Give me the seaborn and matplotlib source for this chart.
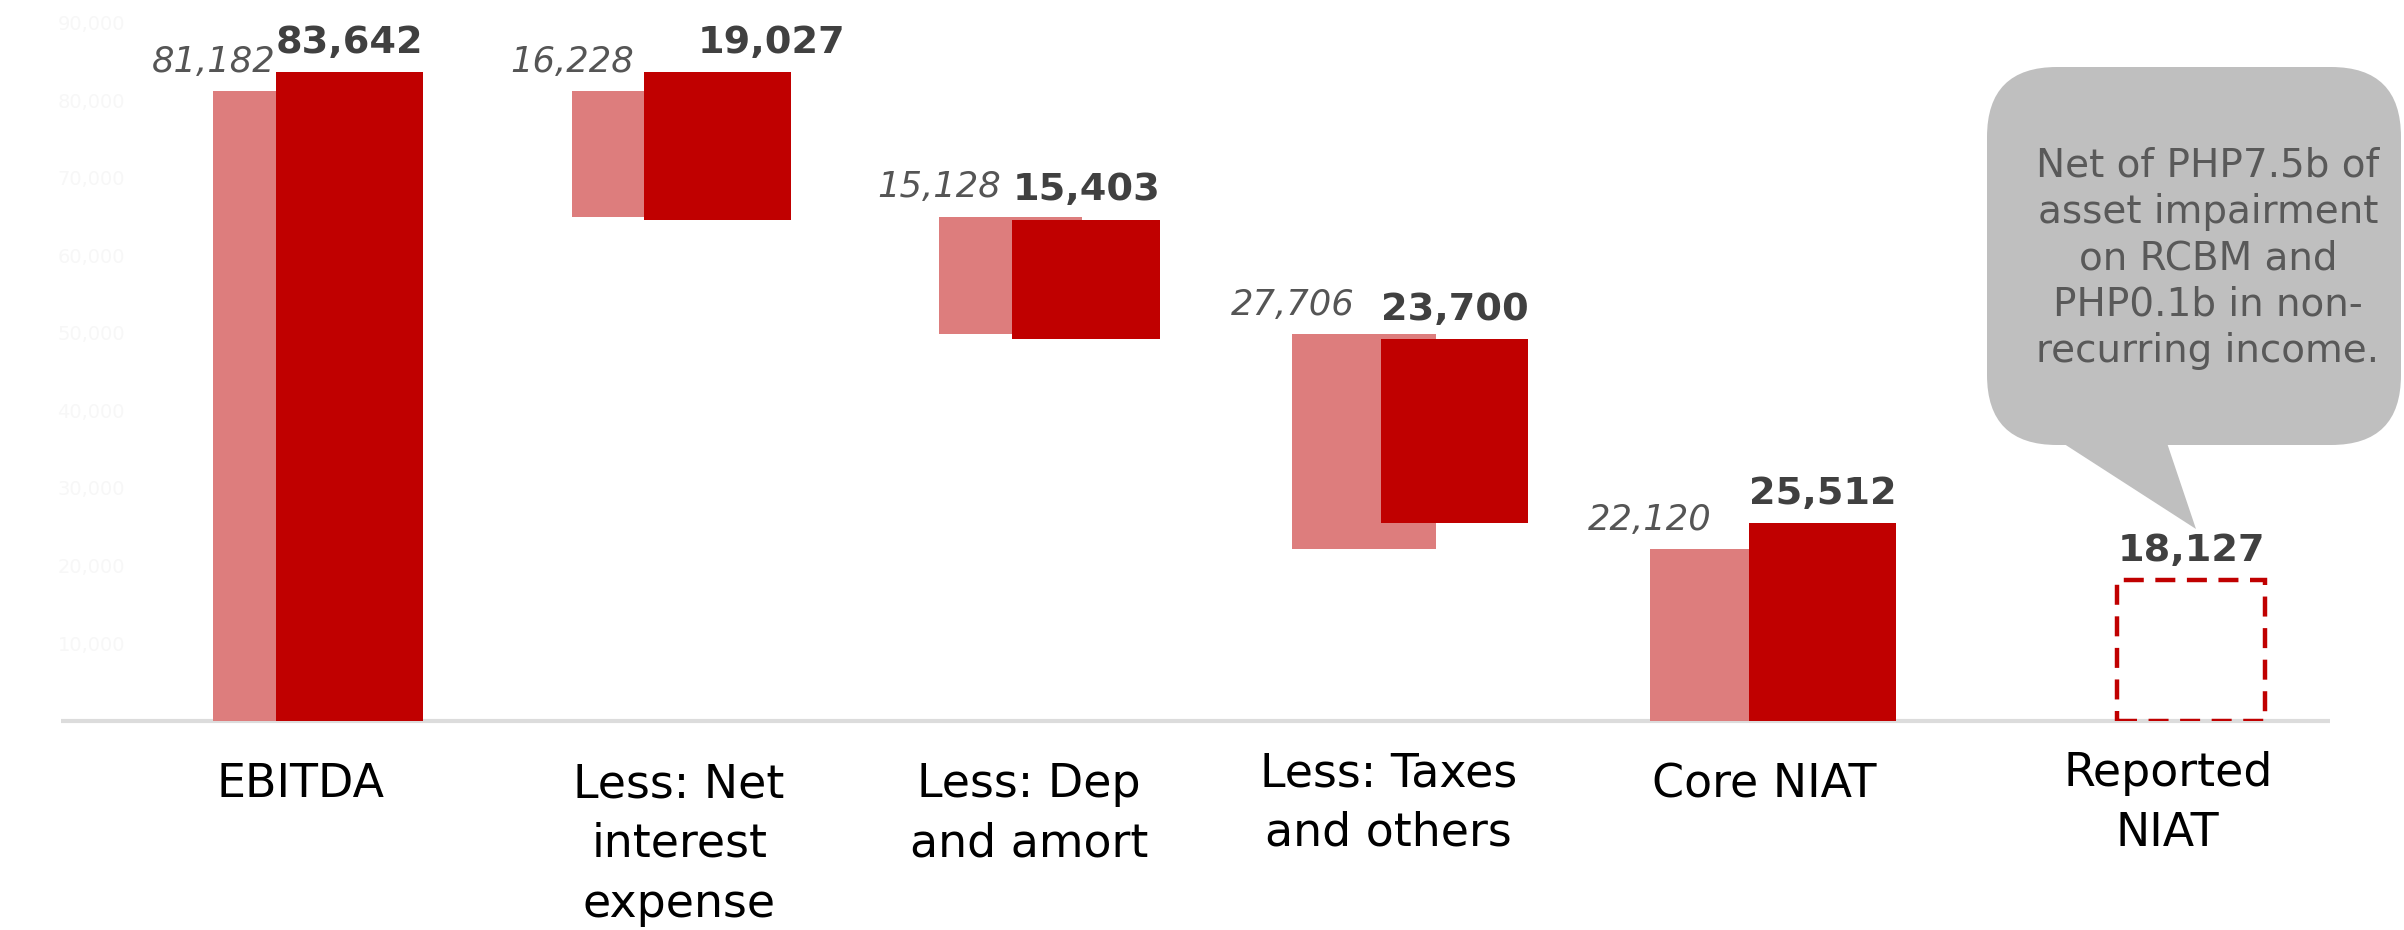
import matplotlib
matplotlib.use("Agg")
import matplotlib.pyplot as plt
import seaborn as sns
import numpy as np
import pandas as pd
from matplotlib.patches import FancyBboxPatch, Polygon

# ---------------- data ----------------
categories = ["EBITDA", "Less: Net\ninterest\nexpense", "Less: Dep\nand amort",
              "Less: Taxes\nand others", "Core NIAT", "Reported\nNIAT"]
prior_values = [81182, 16228, 15128, 27706, 22120, np.nan]
current_values = [83642, 19027, 15403, 23700, 25512, 18127]
bar_kind = ["total", "decrease", "decrease", "decrease", "total", "total"]
y_ticks = [10000, 20000, 30000, 40000, 50000, 60000, 70000, 80000, 90000]
callout_text = "Net of PHP7.5b of\nasset impairment\non RCBM and\nPHP0.1b in non-\nrecurring income."

# ---------------- layout / style ----------------
W, H = 2404, 930
DARK = "#C00000"
LIGHT = "#DD7D7D"
light_offset = [-0.175, -0.200, -0.205, -0.245, -0.275, 0.0]
label_offset = [-0.134, -0.105, -0.155, -0.178, -0.160, -0.063]
label_drop = [30, 30, 30, 22, 30, 22]          # points below baseline
dark_label_dx = [0, 0.145, 0, 0, 0, 0]
dark_w, light_w = 0.40, 0.39


def waterfall_bottoms(values, kinds):
    bottoms, running = [], 0.0
    for v, k in zip(values, kinds):
        if np.isnan(v):
            bottoms.append(np.nan)
            continue
        if k == "total":
            bottoms.append(0.0)
            running = v
        else:
            running -= v
            bottoms.append(running)
    return bottoms


df = pd.DataFrame({
    "category": categories,
    "prior": prior_values,
    "current": current_values,
    "kind": bar_kind,
})
df["prior_bottom"] = waterfall_bottoms(df["prior"].tolist(), bar_kind)
df["current_bottom"] = waterfall_bottoms(df["current"].tolist(), bar_kind)
df["x"] = np.arange(len(df))

sns.set_theme(style="white")
plt.rcParams["font.family"] = ["DejaVu Sans"]

fig = plt.figure(figsize=(W / 100, H / 100), dpi=100)
base_px = 720.6
ax = fig.add_axes([0, 1 - base_px / H, 1, base_px / H])
ax.set_xlim(-349.5 / 368.3, (W - 349.5) / 368.3)
ax.set_ylim(0, 92920)
sns.despine(ax=ax, left=True, bottom=True)

# baseline
ax.plot([-0.783, 5.377], [0, 0], color="#dcdcdc", lw=3, clip_on=False, zorder=0.5,
        solid_capstyle="butt")

n = len(df)
for i, row in df.iterrows():
    x = row["x"]
    # prior (light) bar
    if not np.isnan(row["prior"]):
        lx = x + light_offset[i]
        ax.bar(lx, row["prior"], bottom=row["prior_bottom"], width=light_w,
               color=LIGHT, zorder=1, linewidth=0)
        ax.annotate(f"{int(row['prior']):,}",
                    xy=(lx - light_w / 2, row["prior_bottom"] + row["prior"]),
                    xytext=(0, 9), textcoords="offset points",
                    ha="center", va="bottom", fontsize=25.5, style="italic",
                    color="#555555", zorder=5)
    # current (dark) bar
    top = row["current_bottom"] + row["current"]
    if i == n - 1:
        ax.bar(x, row["current"], bottom=row["current_bottom"], width=dark_w,
               fill=False, edgecolor=DARK, linewidth=3.2,
               linestyle=(0, (4.5, 2.6)), zorder=2)
    else:
        ax.bar(x, row["current"], bottom=row["current_bottom"], width=dark_w,
               color=DARK, zorder=2, linewidth=0)
    ax.annotate(f"{int(row['current']):,}",
                xy=(x + dark_label_dx[i], top),
                xytext=(0, 8), textcoords="offset points",
                ha="center", va="bottom", fontsize=27.5, fontweight="bold",
                color="#404040", zorder=5)
    # category label
    ax.annotate(row["category"], xy=(x + label_offset[i], 0),
                xycoords=("data", "axes fraction"),
                xytext=(0, -label_drop[i]), textcoords="offset points",
                ha="center", va="top", fontsize=33, color="black",
                linespacing=1.42, multialignment="center", annotation_clip=False)

ax.set_xticks([])
ax.set_yticks(y_ticks)
ax.set_yticklabels([f"{v:,}" for v in y_ticks], color="#f7f7f7", fontsize=14)
ax.tick_params(axis="y", length=0, pad=-90)
for t in ax.get_yticklabels():
    t.set_horizontalalignment("right")
ax.grid(False)

# ---------------- callout (overlay in pixel coords) ----------------
ov = fig.add_axes([0, 0, 1, 1], zorder=10)
ov.set_xlim(0, W)
ov.set_ylim(H, 0)
ov.axis("off")
ov.patch.set_alpha(0)
box = FancyBboxPatch((1987, 67), 2401 - 1987, 445 - 67,
                     boxstyle="round,pad=0,rounding_size=70",
                     facecolor="#BFBFBF", edgecolor="none")
ov.add_patch(box)
ov.add_patch(Polygon([(2058, 440), (2166, 440), (2196, 529)], closed=True,
                     facecolor="#BFBFBF", edgecolor="none"))
ov.text(2208, 258, callout_text, ha="center", va="center", fontsize=28,
        color="#595959", linespacing=1.28, multialignment="center")

fig.savefig("out.png", dpi=100)
